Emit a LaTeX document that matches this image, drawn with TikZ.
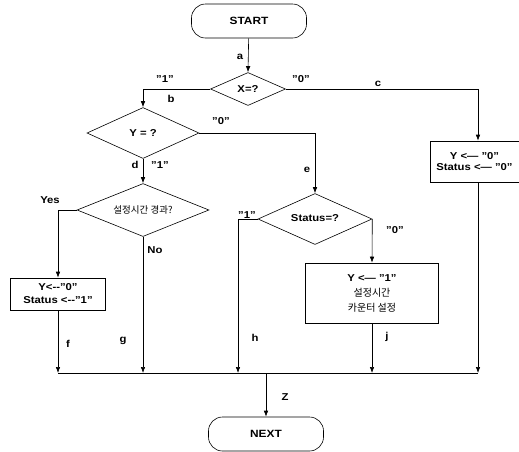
\documentclass[tikz,border=0pt]{standalone}
\usepackage{fontspec}
\setmainfont[FakeStretch=1.13]{Liberation Sans}
\newfontfamily\kr{Noto Sans CJK KR}
\usetikzlibrary{shapes.geometric,arrows.meta}
\begin{document}
\begin{tikzpicture}[x=1pt,y=-1pt,
  font=\fontsize{10}{11}\selectfont\bfseries,
  line width=0.6pt,
  arr/.style={-{Latex[length=6pt,width=4.5pt]}},
  term/.style={draw, rectangle, rounded corners=14pt, minimum width=115pt, minimum height=34pt, inner sep=0pt, font=\fontsize{10.5}{12}\selectfont\bfseries},
  dec/.style={draw, diamond, inner sep=0pt},
  proc/.style={draw, rectangle, inner sep=0pt, align=center},
  lbl/.style={inner sep=0pt, font=\fontsize{10}{11}\selectfont\bfseries},
  krt/.style={font=\fontsize{9.5}{11}\selectfont\kr}
]
\useasboundingbox (0,0) rectangle (519,451);

% nodes
\node[term] (start) at (249,21) {START};
\node[dec, minimum width=75pt, minimum height=33pt, aspect=2.27] (x) at (248,89) {X=?};
\node[dec, minimum width=112pt, minimum height=51pt, aspect=2.2] (y) at (143,133) {Y = ?};
\node[dec, minimum width=132pt, minimum height=53pt, aspect=2.5, krt] (t) at (143,210) {설정시간 경과?};
\node[dec, minimum width=114pt, minimum height=51pt, aspect=2.24] (s) at (315,219) {\raisebox{2pt}{Status=?}};
\node[proc, minimum width=89pt, minimum height=41pt, font=\fontsize{10}{11}\selectfont\bfseries] (r) at (474.5,161.5) {Y <--- "0"\\Status <--- "0"};
\node[proc, minimum width=95pt, minimum height=32pt, font=\fontsize{10}{13}\selectfont\bfseries] (lb) at (58,294) {Y<-{}-"0"\\Status <-{}-"1"};
\node[proc, minimum width=133pt, minimum height=60pt, font=\fontsize{10}{15}\selectfont\bfseries] (m) at (372,293) {Y <--- "1"\\{\kr\mdseries 설정시간}\\{\kr\mdseries 카운터 설정}};
\node[term] (next) at (266,434) {NEXT};

% helper coordinates
\coordinate (bc) at (143,89);
\coordinate (cc) at (478,89);
\coordinate (ec) at (315,133);
\coordinate (yc) at (58,210);
\coordinate (hc) at (238,219);
\coordinate (bl) at (58,373);
\coordinate (br) at (478,373);
\coordinate (zb) at (266,373);

% connectors
\draw[arr] (start) -- (x.north);
\draw[arr] (x.west) -- (bc) -- (y.north);
\draw[arr] (x.east) -- (cc) -- (r.north -| cc);
\draw[arr] (y.east) -- (ec) -- (s.north);
\draw[arr] (y.south) -- (t.north);
\draw[arr] (t.west) -- (yc) -- (lb.north);
\draw[arr] (s.east) -- (m.north);
\draw (bl) -- (br);
\draw[arr] (lb.south) -- (bl);
\draw[arr] (t.south) -- (t.south |- bl);
\draw[arr] (s.west) -- (hc) -- (hc |- bl);
\draw[arr] (m.south) -- (m.south |- bl);
\draw[arr] (r.south -| cc) -- (br);
\draw[arr] (zb) -- (next.north);

% labels
\node[lbl] (la) at (240,57) {a};
\node[lbl] (l1a) at (165,79) {"1"};
\node[lbl] (lb2) at (171,99) {b};
\node[lbl] (l0a) at (301,79) {"0"};
\node[lbl] (lc) at (378,84) {c};
\node[lbl] (l0b) at (221,121) {"0"};
\node[lbl] (ld) at (135,165) {d};
\node[lbl] (l1b) at (160,165) {"1"};
\node[lbl] (le) at (307,170) {e};
\node[lbl] (lyes) at (50,200) {Yes};
\node[lbl] (lno) at (155,250) {No};
\node[lbl] (l1c) at (247,215) {"1"};
\node[lbl] (l0c) at (395,230) {"0"};
\node[lbl] (lf) at (68,344) {f};
\node[lbl] (lg) at (123,341) {g};
\node[lbl] (lh) at (255,338) {h};
\node[lbl] (lj) at (387,337) {j};
\node[lbl] (lz) at (285,397) {Z};
\end{tikzpicture}
\end{document}
